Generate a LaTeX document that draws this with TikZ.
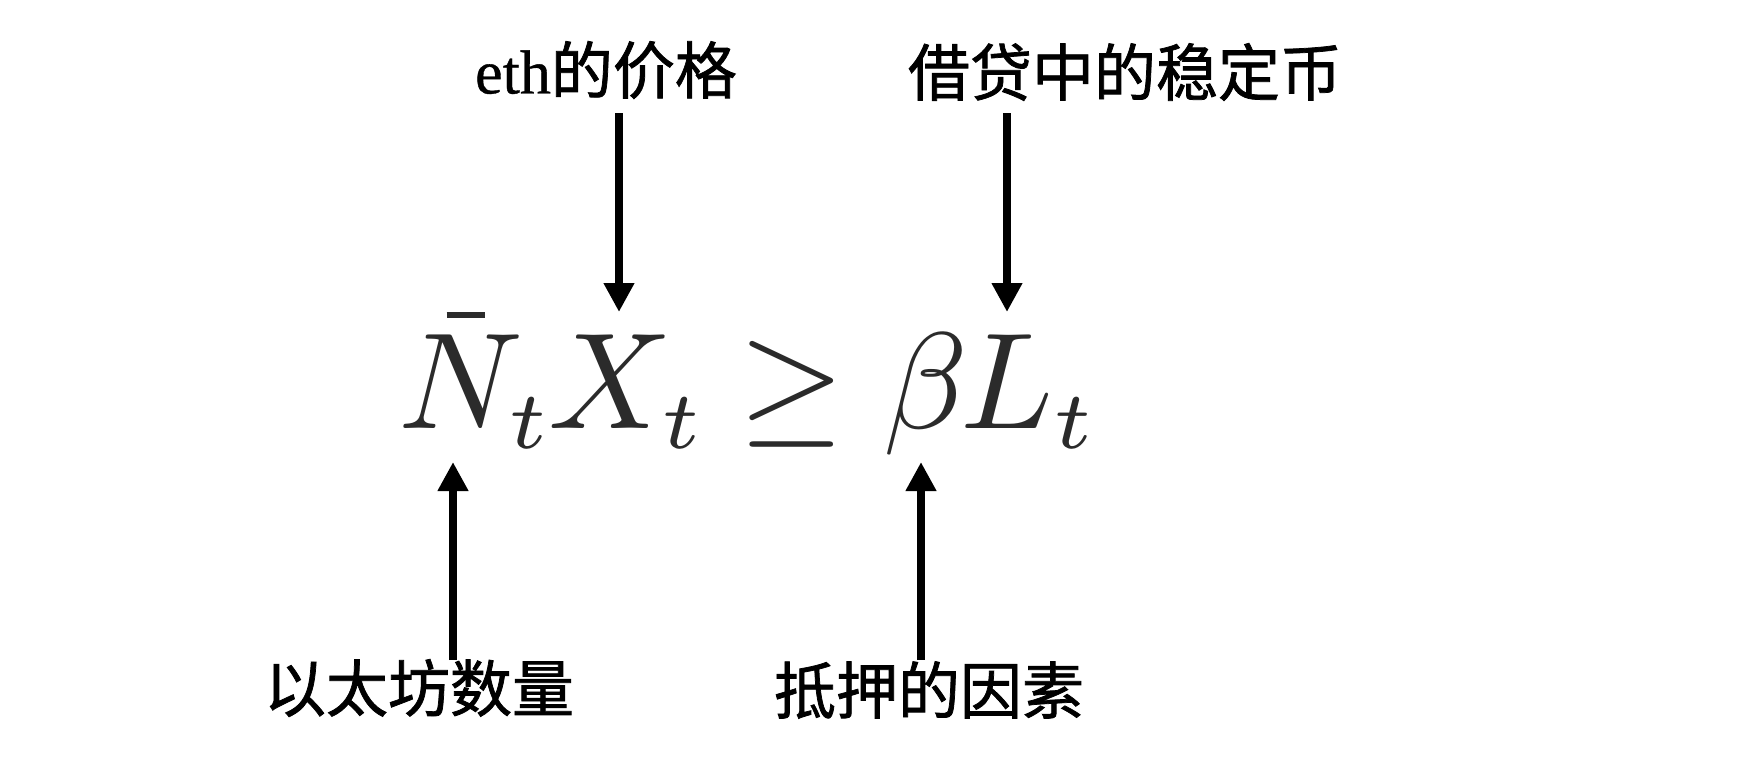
\documentclass[tikz,border=0pt]{standalone}
\usepackage{amsmath}
\usepackage{fontspec}
\newfontfamily\cjk[FakeBold=1.2]{Noto Sans CJK SC}
\newfontfamily\serifl[FakeBold=0.6]{Liberation Serif}
\DeclareMathSizes{10}{10}{6}{5}
\usetikzlibrary{arrows.meta}
\definecolor{formula}{HTML}{2B2B2B}
\newcommand{\nbarmark}{\rlap{\hspace{3.5pt}\raisebox{8.0pt}{\rule{2.8pt}{0.5pt}}}}
\tikzset{
  lbl/.style={inner sep=0pt, font=\fontsize{62}{62}\selectfont\cjk, text=black},
  arr/.style={line width=8pt, -{Triangle[width=29pt,length=29pt]}, black},
  formulastyle/.style={inner sep=0pt, anchor=base west, text=formula, font=\fontsize{10}{12}\selectfont, scale=13.7}
}
\begin{document}
\begin{tikzpicture}[x=1pt,y=1pt]
\useasboundingbox[fill=white] (0,0) rectangle (1754,-766);
% formula
\node[formulastyle] (eq) at (396,-428) {$\scriptspace=0pt \nbarmark N_t X_t \geq \beta\mkern-1mu L_t$};
% labels
\node[lbl] (price) at (606,-70) {{\serifl eth}的价格};
\node[lbl] (loan) at (1125,-72) {借贷中的稳定币};
\node[lbl] (count) at (419,-688) {以太坊数量};
\node[lbl] (factor) at (929,-690) {抵押的因素};
% arrow ends
\coordinate (tX) at (619,-312);
\coordinate (tL) at (1007,-312);
\coordinate (tN) at (453,-462);
\coordinate (tB) at (921,-462);
\coordinate (sX) at (619,-113);
\coordinate (sL) at (1007,-113);
\coordinate (sN) at (453,-660);
\coordinate (sB) at (921,-660);
\draw[arr] (sX) -- (tX);
\draw[arr] (sL) -- (tL);
\draw[arr] (sN) -- (tN);
\draw[arr] (sB) -- (tB);
\end{tikzpicture}
\end{document}
